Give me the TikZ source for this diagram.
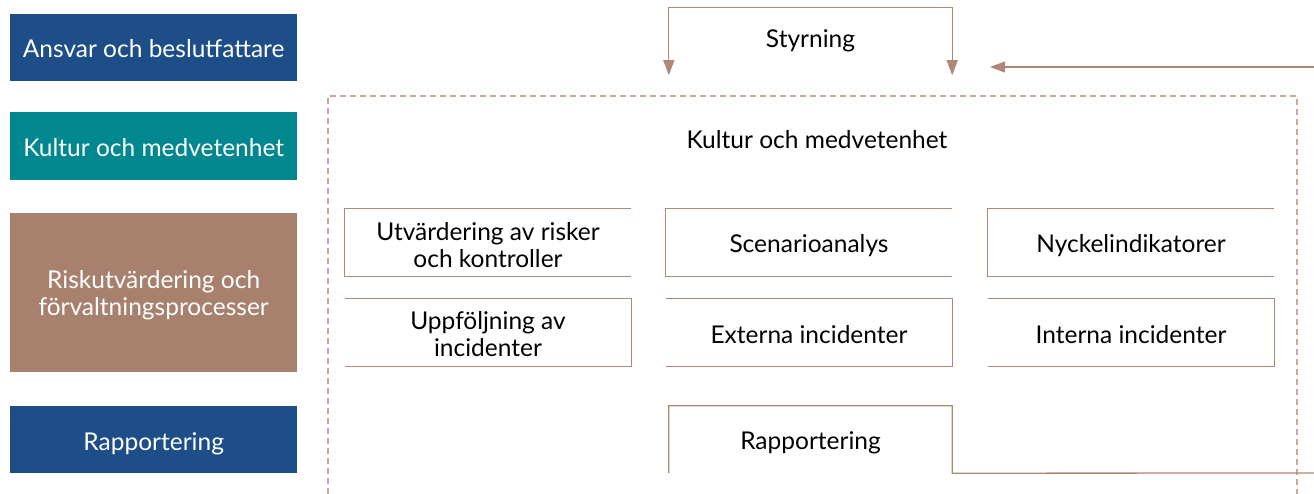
\documentclass[tikz,border=0pt]{standalone}
\usepackage{fontspec}
\setmainfont{Lato}
\usetikzlibrary{arrows.meta}
\definecolor{cblue}{HTML}{1E4E87}
\definecolor{cteal}{HTML}{00878F}
\definecolor{cbrown}{HTML}{A8816E}
\definecolor{cline}{HTML}{B08675}
\definecolor{cdash}{HTML}{CCA898}
\begin{document}
\begin{tikzpicture}[x=1pt,y=-1pt,
  txt/.style={font=\fontsize{24.5}{27}\selectfont, align=center, inner sep=0pt},
  wtxt/.style={txt, text=white},
  btxt/.style={txt, text=black},
  side/.style={minimum width=287pt, anchor=north west, inner sep=0pt},
  cell/.style={minimum width=286pt, minimum height=67pt, inner sep=0pt},
  edge/.style={draw=cline, line width=1.3pt},
  dashedge/.style={draw=cdash, line width=1.2pt, dash pattern=on 6pt off 4pt},
  tip/.style={-{Triangle[width=11pt,length=15pt]}}]
\useasboundingbox (0,0) rectangle (1314,494);
% left column
\node[side, fill=cblue, minimum height=67pt] (ansvar) at (10,14) {};
\node[side, fill=cteal, minimum height=68pt] (kultur) at (10,112) {};
\node[side, fill=cbrown, minimum height=159pt] (risk) at (10,213) {};
\node[side, fill=cblue, minimum height=67pt] (rapl) at (10,406) {};
\node[wtxt] (ansvarT) at ([yshift=-1pt]ansvar.center) {Ansvar och beslutfattare};
\node[wtxt] (kulturT) at ([yshift=-1pt]kultur.center) {Kultur och medvetenhet};
\node[wtxt] (riskT) at ([yshift=-3pt]risk.center) {Riskutvärdering och\\förvaltningsprocesser};
\node[wtxt] (raplT) at ([yshift=-4pt]rapl.center) {Rapportering};
% dashed frame
\draw[dashedge] (328,494) -- (328,96) -- (1297,96) -- (1297,494);
% Styrning
\node[cell, minimum width=283pt] (styr) at (810.5,41.5) {};
\node[btxt] (styrT) at ([yshift=1pt]styr.center) {Styrning};
\draw[edge, {Triangle[width=11pt,length=15pt]}-{Triangle[width=11pt,length=15pt]}]
  (styr.south west) -- (styr.north west) -- (styr.north east) -- (styr.south east);
\coordinate (fbin) at (1314,67);
\coordinate (fbtip) at (990,67);
\draw[edge, tip] (fbin) -- (fbtip);
% culture label
\node[btxt] (kult) at (817,140) {Kultur och medvetenhet};
% row 1
\node[cell] (utv) at (488,242.5) {};
\node[cell] (scen) at (809,242.5) {};
\node[cell] (nyck) at (1131,242.5) {};
\node[btxt] (utvT) at ([yshift=-3pt]utv.center) {Utvärdering av risker\\och kontroller};
\node[btxt] (scenT) at ([yshift=-3pt]scen.center) {Scenarioanalys};
\node[btxt] (nyckT) at ([yshift=-3pt]nyck.center) {Nyckelindikatorer};
\foreach \n in {utv,scen,nyck}
  \draw[edge] (\n.north east) -- (\n.north west) -- (\n.south west) -- (\n.south east);
% row 2
\node[cell] (upp) at (488,332.5) {};
\node[cell] (ext) at (809,332.5) {};
\node[cell] (int) at (1131,332.5) {};
\node[btxt] (uppT) at ([yshift=-2pt]upp.center) {Uppföljning av\\incidenter};
\node[btxt] (extT) at ([yshift=-2pt]ext.center) {Externa incidenter};
\node[btxt] (intT) at ([yshift=-2pt]int.center) {Interna incidenter};
\foreach \n in {upp,ext,int}
  \draw[edge] (\n.north west) -- (\n.north east) -- (\n.south east) -- (\n.south west);
% reporting
\node[cell, minimum width=283pt] (rap) at (810.5,439.5) {};
\node[btxt] (rapT) at ([yshift=-3pt]rap.center) {Rapportering};
\coordinate (rapout) at (1314,473);
\draw[edge] (rap.south west) -- (rap.north west) -- (rap.north east) -- (rap.south east) -- (rapout);
\end{tikzpicture}
\end{document}
